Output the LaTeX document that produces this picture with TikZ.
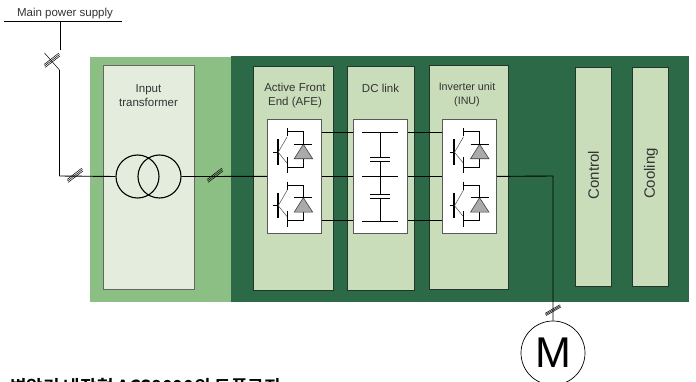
\documentclass[tikz,border=0pt]{standalone}
\usepackage{fontspec}
\setmainfont{Liberation Sans}
\newfontfamily\krfont{Noto Sans CJK KR}[BoldFont={* Bold}]
\definecolor{dgreen}{HTML}{2B6947}
\definecolor{lgreen}{HTML}{8CBF84}
\definecolor{pgreen}{HTML}{C9DDBA}
\definecolor{xgreen}{HTML}{E3ECDD}
\definecolor{edge}{HTML}{24362C}
\definecolor{txt}{HTML}{333333}
\definecolor{dio}{HTML}{A8AAAC}
\tikzset{
  x=1pt,y=-1pt,
  panel/.style={draw=edge,line width=0.8pt,fill=pgreen,inner sep=0pt,anchor=north west},
  whitebox/.style={draw=#1,line width=0.8pt,fill=white,inner sep=0pt,anchor=north west,minimum width=54pt,minimum height=114pt},
  whitebox/.default=edge,
  wire/.style={line width=0.9pt,black},
  thin wire/.style={line width=0.5pt,black},
  title/.style={font=\fontsize{11.5}{14}\selectfont,text=txt,align=center,inner sep=0pt},
  hatchline/.style={line width=0.5pt,black},
  pics/hatch/.style={code={
    \draw[hatchline] (-8,4.5) -- (7,-7) (-7.5,6) -- (7.5,-5.5) (-7,7.5) -- (8,-4);
  }},
  pics/igbt/.style={code={
    \draw[line width=2pt,black] (0,-13) -- (0,12.5);
    \draw[wire,line width=0.7pt] (-4.5,0) -- (0,0);
    \draw[line width=0.5pt,black!70] (0.5,0) -- (9.5,-15.5) (0.5,0) -- (9.5,11);
    \draw[wire,line width=0.7pt] (9.6,-24) -- (9.6,-16) (9.6,5) -- (9.6,21);
    \draw[wire,line width=0.7pt] (9.6,-20.5) -- (25.6,-20.5) -- (25.6,15) -- (9.6,15);
    \fill[dio] (25.6,-8) -- (35,6.5) -- (16.5,6.5) -- cycle;
    \draw[line width=0.6pt,black!75] (25.6,-8) -- (35,6.5) -- (16.5,6.5) -- cycle;
    \draw[wire,line width=0.7pt] (16.5,-8) -- (34.5,-8);
  }},
}
\begin{document}
\begin{tikzpicture}
\useasboundingbox (0,0) rectangle (696,382);
\clip (0,0) rectangle (696,382);
% enclosures
\node[fill=lgreen,inner sep=0pt,anchor=north west,minimum width=142pt,minimum height=245pt] (lgbg) at (90,57) {};
\node[fill=dgreen,inner sep=0pt,anchor=north west,minimum width=458pt,minimum height=246pt] (dgbg) at (231,56) {};
\node[draw=black!60,line width=0.7pt,fill=xgreen,inner sep=0pt,anchor=north west,minimum width=91pt,minimum height=224pt] (tbox) at (103,65) {};
% panels
\node[panel,minimum width=80pt,minimum height=224pt] (afe) at (253,66) {};
\node[panel,minimum width=67pt,minimum height=224pt] (dc) at (347,66) {};
\node[panel,minimum width=79pt,minimum height=224pt] (inu) at (429,65) {};
\node[panel,minimum width=36pt,minimum height=219pt] (ctrl) at (575,67) {};
\node[panel,minimum width=36pt,minimum height=219pt] (cool) at (632,67) {};
\node[whitebox=black!65] (afew) at (267,119) {};
\node[whitebox=black!65] (dcw) at (353,119) {};
\node[whitebox=black!65] (inuw) at (442,119) {};
% titles
\node[title] (tmain) at (65,14) {Main power supply};
\node[title] (ttr) at (148.5,95.5) {Input\\transformer};
\node[title] (tafe) at (295,95.5) {Active Front\\End (AFE)};
\node[title] (tdc) at (380.5,88) {DC link};
\node[title,font=\fontsize{10.7}{14}\selectfont] (tinu) at (467,94.5) {Inverter unit\\(INU)};
\node[title,rotate=90,font=\fontsize{15}{15}\selectfont] (tctrl) at (593.5,175) {Control};
\node[title,rotate=90,font=\fontsize{15}{15}\selectfont] (tcool) at (651,173.5) {Cooling};
% supply
\coordinate (busl) at (4,21);
\coordinate (busr) at (122,21);
\coordinate (tap) at (60.5,21);
\coordinate (swtop) at (60.5,50);
\coordinate (swa) at (44.5,53);
\coordinate (swb) at (59.5,70);
\coordinate (corner) at (59.5,176);
\draw[wire] (busl) -- (busr);
\draw[wire] (tap) -- (swtop);
\draw[thin wire] (swa) -- (swb);
\draw[wire] (swb) -- (corner);
% transformer
\node[draw=black,line width=1.1pt,circle,minimum size=43pt,inner sep=0pt] (tr1) at (137.5,176.5) {};
\node[draw=black,line width=1.1pt,circle,minimum size=43pt,inner sep=0pt] (tr2) at (159.5,176.5) {};
\draw[wire] (corner) -- (tr1.west);
\draw[wire] (tr2.east) -- (afew.west);
\pic at (52,60) {hatch};
\pic at (75,175) {hatch};
\pic at (215,175) {hatch};
% bus between the converter blocks
\draw[wire] (afew.east) -- (dcw.west);
\draw[wire] ([yshift=43.5pt]afew.east) -- ([yshift=43.5pt]dcw.west);
\draw[wire] ([yshift=-44.5pt]afew.east) -- ([yshift=-44.5pt]dcw.west);
\draw[wire] (dcw.east) -- (inuw.west);
\draw[wire] ([yshift=43.5pt]dcw.east) -- ([yshift=43.5pt]inuw.west);
\draw[wire] ([yshift=-44.5pt]dcw.east) -- ([yshift=-44.5pt]inuw.west);
% semiconductors
\pic at (277.7,152.3) {igbt};
\pic at (277.7,205.7) {igbt};
\pic at (454,152.3) {igbt};
\pic at (454,205.7) {igbt};
% capacitors
\coordinate (c0) at (380.3,132.5);
\coordinate (c1) at (380.3,157.5);
\coordinate (c2) at (380.3,161.5);
\coordinate (c3) at (380.3,176);
\coordinate (c4) at (380.3,194.5);
\coordinate (c5) at (380.3,198.5);
\coordinate (c6) at (380.3,221);
\draw[wire] (c0) -- (c1) (c2) -- (c4) (c5) -- (c6);
\draw[wire] ([xshift=-18pt]c0) -- ([xshift=18pt]c0);
\draw[wire] ([xshift=-18pt]c3) -- ([xshift=18pt]c3);
\draw[wire] ([xshift=-18pt]c6) -- ([xshift=18pt]c6);
\draw[wire] ([xshift=-10pt]c1) -- ([xshift=10pt]c1);
\draw[wire] ([xshift=-10pt]c2) -- ([xshift=10pt]c2);
\draw[wire] ([xshift=-10pt]c4) -- ([xshift=10pt]c4);
\draw[wire] ([xshift=-10pt]c5) -- ([xshift=10pt]c5);
% motor
\node[draw=black,line width=0.7pt,fill=white,circle,minimum size=64pt,inner sep=0pt,font=\fontsize{43}{43}\selectfont] (mot) at (553,353) {M};
\coordinate (mcorner) at (553,176);
\draw[wire] (inuw.east) -- (mcorner) -- (mot.north);
\pic[yscale=0.75] at (553,310) {hatch};
% caption
\node[font=\krfont\bfseries\fontsize{18}{18}\selectfont,anchor=base west,inner sep=0pt] (cap) at (10,393) {변압기 내장형 ACS8000의 토폴로지};
\end{tikzpicture}
\end{document}
